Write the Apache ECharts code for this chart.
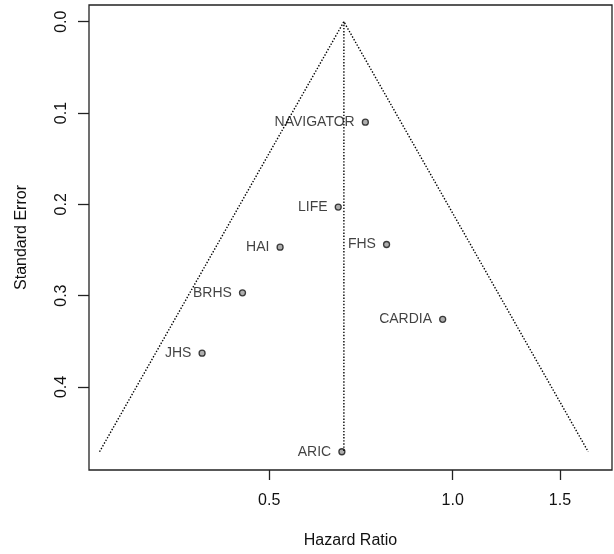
<!DOCTYPE html>
<html>
<head>
<meta charset="utf-8">
<style>
  html, body { margin: 0; padding: 0; background: #fff; }
  #chart { width: 614px; height: 554px; }
</style>
<script src="https://cdn.jsdelivr.net/npm/echarts@6/dist/echarts.min.js"></script>
</head>
<body>
<div id="chart"></div>
<script>
// Funnel plot of hazard ratios (log scale) against their standard errors
const studies = ['NAVIGATOR', 'LIFE', 'HAI', 'FHS', 'BRHS', 'JHS', 'CARDIA', 'ARIC'];
const hazardRatio = [0.719, 0.649, 0.521, 0.779, 0.452, 0.388, 0.963, 0.658];
const stdError = [0.110, 0.203, 0.247, 0.244, 0.297, 0.363, 0.326, 0.471];
const pooledHR = 0.663;
const xTickLabels = [0.5, 1.0, 1.5];
const yTickLabels = [0.0, 0.1, 0.2, 0.3, 0.4];

const FONT = '"Liberation Sans", Arial, sans-serif';
const INK = '#111';

const center = Math.log(pooledHR);
const maxSE = Math.max(...stdError);
const z = 1.96;

const points = studies.map((name, i) => ({
  name: name,
  value: [Math.log(hazardRatio[i]), stdError[i]]
}));

const funnelEdges = [
  [center - z * maxSE, maxSE],
  [center, 0],
  [center + z * maxSE, maxSE]
];
const centerLine = [[center, 0], [center, maxSE]];

const dotted = { color: '#000', width: 1.4, type: [1.4, 1.7] };

const chart = echarts.init(document.getElementById('chart'), null, { renderer: 'canvas' });
chart.setOption({
  animation: false,
  backgroundColor: '#fff',
  grid: {
    left: 89, right: 2, top: 5, bottom: 84,
    show: true, borderColor: '#222', borderWidth: 1.3, backgroundColor: 'transparent'
  },
  xAxis: {
    type: 'value',
    min: -1.374, max: 0.602,
    name: 'Hazard Ratio',
    nameLocation: 'middle',
    nameGap: 63,
    nameTextStyle: { fontFamily: FONT, fontSize: 16, color: INK },
    axisLine: { show: false, onZero: false },
    splitLine: { show: false },
    axisTick: {
      show: true, inside: false, length: 10,
      customValues: xTickLabels.map(v => Math.log(v)),
      lineStyle: { color: '#222', width: 1.3 }
    },
    axisLabel: {
      margin: 23,
      fontFamily: FONT, fontSize: 16, color: INK,
      customValues: xTickLabels.map(v => Math.log(v)),
      formatter: v => Math.exp(v).toFixed(1)
    }
  },
  yAxis: {
    type: 'value',
    inverse: true,
    min: -0.0183, max: 0.491,
    name: 'Standard Error',
    nameLocation: 'middle',
    nameRotate: 90,
    nameGap: 59,
    nameTextStyle: { fontFamily: FONT, fontSize: 16, color: INK },
    axisLine: { show: false, onZero: false },
    splitLine: { show: false },
    axisTick: {
      show: true, inside: false, length: 11,
      customValues: yTickLabels,
      lineStyle: { color: '#222', width: 1.3 }
    },
    axisLabel: {
      rotate: 90,
      margin: 19,
      fontFamily: FONT, fontSize: 16, color: INK,
      customValues: yTickLabels,
      formatter: v => v.toFixed(1)
    }
  },
  series: [
    {
      type: 'line',
      data: funnelEdges,
      symbol: 'none',
      silent: true,
      lineStyle: dotted
    },
    {
      type: 'line',
      data: centerLine,
      symbol: 'none',
      silent: true,
      lineStyle: dotted
    },
    {
      type: 'scatter',
      data: points,
      symbol: 'circle',
      symbolSize: 6,
      itemStyle: { color: '#9a9a9a', borderColor: '#111', borderWidth: 1.3 },
      label: {
        show: true,
        position: 'left',
        distance: 7,
        formatter: p => p.name,
        fontFamily: FONT,
        fontSize: 14,
        color: INK
      }
    }
  ]
});
</script>
</body>
</html>
